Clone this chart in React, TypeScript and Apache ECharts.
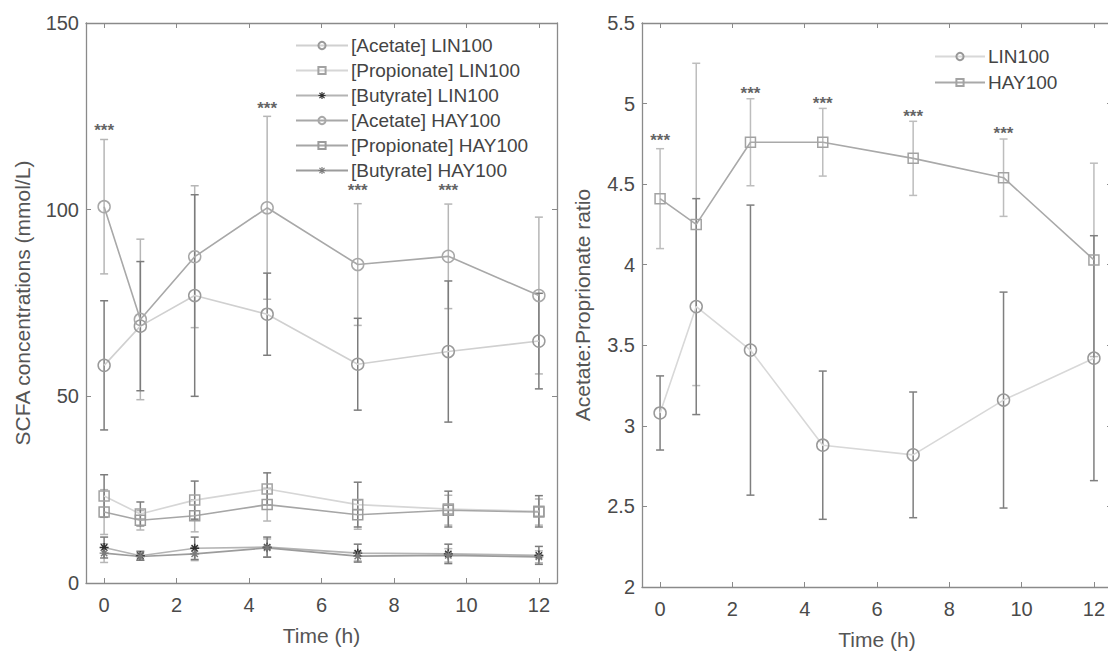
import React, { useEffect, useRef } from "react";
import * as echarts from "echarts";

// ---- data ----
const times = [0, 1, 2.5, 4.5, 7, 9.5, 12];
const xTicks = [0, 2, 4, 6, 8, 10, 12];

const acetateLIN = [58.3, 68.8, 77, 72, 58.6, 62, 64.8];
const acetateLINsd = [17.3, 17.3, 27, 11, 12.3, 18.9, 12.8];
const acetateHAY = [100.8, 70.6, 87.4, 100.5, 85.3, 87.5, 77];
const acetateHAYsd = [18, 21.5, 19, 24.5, 16.3, 14, 21];

const propLIN = [23.3, 18.5, 22.2, 25.2, 21, 19.8, 19.2];
const propLINsd = [5.7, 3.2, 5.1, 4.3, 6, 4.8, 4.2];
const propHAY = [19, 16.8, 18, 21, 18.3, 19.5, 19];
const propHAYsd = [6, 2.6, 4.3, 4.4, 3.9, 4, 3.5];

const butLIN = [9.5, 7.3, 9.3, 9.6, 8, 7.8, 7.4];
const butLINsd = [2.8, 1.2, 3, 2.7, 2.4, 2.6, 2.4];
const butHAY = [8, 7.1, 7.8, 9.4, 7.2, 7.4, 7];
const butHAYsd = [2.5, 1, 1.8, 2.4, 1.3, 1.8, 1.6];

const ratioLIN = [3.08, 3.74, 3.47, 2.88, 2.82, 3.16, 3.42];
const ratioLINsd = [0.23, 0.67, 0.9, 0.46, 0.39, 0.67, 0.76];
const ratioHAY = [4.41, 4.25, 4.76, 4.76, 4.66, 4.54, 4.03];
const ratioHAYsd = [0.31, 1.0, 0.27, 0.21, 0.23, 0.24, 0.6];

const starsLeftX = [0, 4.5, 7, 9.5];
const starsLeftY = [122, 128, 106, 106];
const starsRightX = [0, 2.5, 4.5, 7, 9.5];
const starsRightY = [4.79, 5.08, 5.02, 4.94, 4.83];

// ---- helpers ----
const FONT = "'Liberation Sans', Arial, Helvetica, sans-serif";
const AXIS = "#8a8a8a";
const TXT = "#4a4a4a";
const ASTERISK =
  "path://M-0.8,-5L0.8,-5L0.8,5L-0.8,5Z M-5,-0.8L5,-0.8L5,0.8L-5,0.8Z M-4.1,-2.97L-2.97,-4.1L4.1,2.97L2.97,4.1Z M2.97,-4.1L4.1,-2.97L-2.97,4.1L-4.1,2.97Z";

const pts = (m: number[]) => times.map((t, i) => [t, m[i]]);
const errs = (m: number[], sd: number[]) =>
  times.map((t, i) => [t, m[i] - sd[i], m[i] + sd[i]]);

function errRender(color: string) {
  return (params: any, api: any) => {
    const x = api.value(0);
    const a = api.coord([x, api.value(1)]);
    const b = api.coord([x, api.value(2)]);
    const w = 4;
    const style = { stroke: color, lineWidth: 1.5, fill: "none" };
    return {
      type: "group",
      children: [
        { type: "line", shape: { x1: a[0], y1: a[1], x2: b[0], y2: b[1] }, style },
        { type: "line", shape: { x1: a[0] - w, y1: a[1], x2: a[0] + w, y2: a[1] }, style },
        { type: "line", shape: { x1: b[0] - w, y1: b[1], x2: b[0] + w, y2: b[1] }, style },
      ],
    };
  };
}

function errSeries(idx: number, data: number[][], color: string) {
  return {
    type: "custom",
    xAxisIndex: idx,
    yAxisIndex: idx,
    data,
    encode: { x: 0, y: [1, 2] },
    renderItem: errRender(color),
    silent: true,
    z: 1,
  };
}

function lineSeries(
  idx: number,
  name: string,
  data: number[][],
  lineColor: string,
  symbol: string,
  symbolSize: number,
  markColor: string,
  filled: boolean
) {
  return {
    type: "line",
    name,
    xAxisIndex: idx,
    yAxisIndex: idx,
    data,
    symbol,
    symbolSize,
    showAllSymbol: true,
    lineStyle: { color: lineColor, width: 1.6 },
    itemStyle: filled
      ? { color: markColor, borderWidth: 0 }
      : { color: "rgba(255,255,255,0)", borderColor: markColor, borderWidth: 1.5 },
    emphasis: { disabled: true },
    z: 3,
  };
}

function starSeries(idx: number, xs: number[], ys: number[]) {
  return {
    type: "scatter",
    xAxisIndex: idx,
    yAxisIndex: idx,
    data: xs.map((x, i) => [x, ys[i]]),
    symbol: "circle",
    symbolSize: 1,
    itemStyle: { color: "rgba(0,0,0,0)" },
    label: {
      show: true,
      position: "inside",
      formatter: "***",
      fontSize: 17,
      fontWeight: "bold",
      fontFamily: FONT,
      color: "#3a3a3a",
      offset: [0, 3],
    },
    silent: true,
    z: 5,
  };
}

function xAxes(grid: number, name: string) {
  return [
    {
      type: "value",
      gridIndex: grid,
      min: -0.5,
      max: 12.5,
      name,
      nameLocation: "middle",
      nameGap: 42,
      nameTextStyle: { fontSize: 21, color: "#555", fontFamily: FONT },
      axisLine: { show: true, onZero: false, lineStyle: { color: AXIS, width: 1.3 } },
      axisTick: { show: true, inside: true, length: 5, customValues: xTicks, lineStyle: { color: AXIS } },
      axisLabel: { show: true, customValues: xTicks, fontSize: 20, color: TXT, fontFamily: FONT, margin: 12 },
      splitLine: { show: false },
    },
    {
      type: "value",
      gridIndex: grid,
      position: "top",
      min: -0.5,
      max: 12.5,
      axisLine: { show: true, onZero: false, lineStyle: { color: AXIS, width: 1.3 } },
      axisTick: { show: true, inside: true, length: 5, customValues: xTicks, lineStyle: { color: AXIS } },
      axisLabel: { show: false },
      splitLine: { show: false },
    },
  ];
}

function yAxes(grid: number, name: string, min: number, max: number, interval: number, nameGap: number) {
  return [
    {
      type: "value",
      gridIndex: grid,
      position: "left",
      min,
      max,
      interval,
      name,
      nameLocation: "middle",
      nameGap,
      nameRotate: 90,
      nameTextStyle: { fontSize: 21, color: "#555", fontFamily: FONT },
      axisLine: { show: true, onZero: false, lineStyle: { color: AXIS, width: 1.3 } },
      axisTick: { show: true, inside: true, length: 5, lineStyle: { color: AXIS } },
      axisLabel: { show: true, fontSize: 20, color: TXT, fontFamily: FONT, margin: 7 },
      splitLine: { show: false },
    },
    {
      type: "value",
      gridIndex: grid,
      position: "right",
      min,
      max,
      interval,
      axisLine: { show: true, onZero: false, lineStyle: { color: AXIS, width: 1.3 } },
      axisTick: { show: true, inside: true, length: 5, lineStyle: { color: AXIS } },
      axisLabel: { show: false },
      splitLine: { show: false },
    },
  ];
}

export default function App() {
  const ref = useRef<HTMLDivElement>(null);

  useEffect(() => {
    if (!ref.current) return;
    const chart = echarts.init(ref.current, null, { renderer: "svg" });

    const LINbar = "#7c7c7c";
    const HAYbar = "#b6b6b6";

    const option: any = {
      animation: false,
      backgroundColor: "#ffffff",
      grid: [
        { left: 86, top: 23, width: 471, height: 560, outerBoundsMode: "none", containLabel: false },
        { left: 642, top: 23, width: 470, height: 564, outerBoundsMode: "none", containLabel: false },
      ],
      // axes: 0 = left bottom, 1 = left top, 2 = right bottom, 3 = right top
      xAxis: [...xAxes(0, "Time (h)"), ...xAxes(1, "Time (h)")],
      yAxis: [
        ...yAxes(0, "SCFA concentrations (mmol/L)", 0, 150, 50, 53),
        ...yAxes(1, "Acetate:Proprionate ratio", 2, 5.5, 0.5, 49),
      ],
      legend: [
        {
          orient: "vertical",
          left: 290,
          top: 31,
          itemWidth: 52,
          itemHeight: 9,
          itemGap: 6,
          textStyle: { fontSize: 19, color: "#444", fontFamily: FONT, padding: [0, 0, 0, -2] },
          data: [
            "[Acetate] LIN100",
            "[Propionate] LIN100",
            "[Butyrate] LIN100",
            "[Acetate] HAY100",
            "[Propionate] HAY100",
            "[Butyrate] HAY100",
          ],
        },
        {
          orient: "vertical",
          left: 929,
          top: 42,
          itemWidth: 50,
          itemHeight: 9,
          itemGap: 7,
          textStyle: { fontSize: 19, color: "#444", fontFamily: FONT, padding: [0, 0, 0, -2] },
          data: ["LIN100", "HAY100"],
        },
      ],
      series: [
        // left chart error bars
        errSeries(0, errs(acetateHAY, acetateHAYsd), HAYbar),
        errSeries(0, errs(propHAY, propHAYsd), HAYbar),
        errSeries(0, errs(butHAY, butHAYsd), HAYbar),
        errSeries(0, errs(acetateLIN, acetateLINsd), LINbar),
        errSeries(0, errs(propLIN, propLINsd), LINbar),
        errSeries(0, errs(butLIN, butLINsd), LINbar),
        // left chart lines
        lineSeries(0, "[Acetate] LIN100", pts(acetateLIN), "#d0d0d0", "circle", 12, "#9a9a9a", false),
        lineSeries(0, "[Propionate] LIN100", pts(propLIN), "#d6d6d6", "rect", 10, "#a2a2a2", false),
        lineSeries(0, "[Butyrate] LIN100", pts(butLIN), "#b4b4b4", ASTERISK, 9, "#2e2e2e", true),
        lineSeries(0, "[Acetate] HAY100", pts(acetateHAY), "#a8a8a8", "circle", 12, "#a8a8a8", false),
        lineSeries(0, "[Propionate] HAY100", pts(propHAY), "#a6a6a6", "rect", 10, "#9c9c9c", false),
        lineSeries(0, "[Butyrate] HAY100", pts(butHAY), "#9c9c9c", ASTERISK, 9, "#7a7a7a", true),
        starSeries(0, starsLeftX, starsLeftY),
        // right chart
        errSeries(2, errs(ratioHAY, ratioHAYsd), "#bdbdbd"),
        errSeries(2, errs(ratioLIN, ratioLINsd), "#7f7f7f"),
        lineSeries(2, "LIN100", pts(ratioLIN), "#d8d8d8", "circle", 12, "#999999", false),
        lineSeries(2, "HAY100", pts(ratioHAY), "#a9a9a9", "rect", 10, "#a3a3a3", false),
        starSeries(2, starsRightX, starsRightY),
      ],
    };

    chart.setOption(option);
    return () => chart.dispose();
  }, []);

  return (
    <div
      ref={ref}
      style={{ position: "absolute", left: 0, top: 0, width: 1108, height: 655, background: "#fff" }}
    />
  );
}
